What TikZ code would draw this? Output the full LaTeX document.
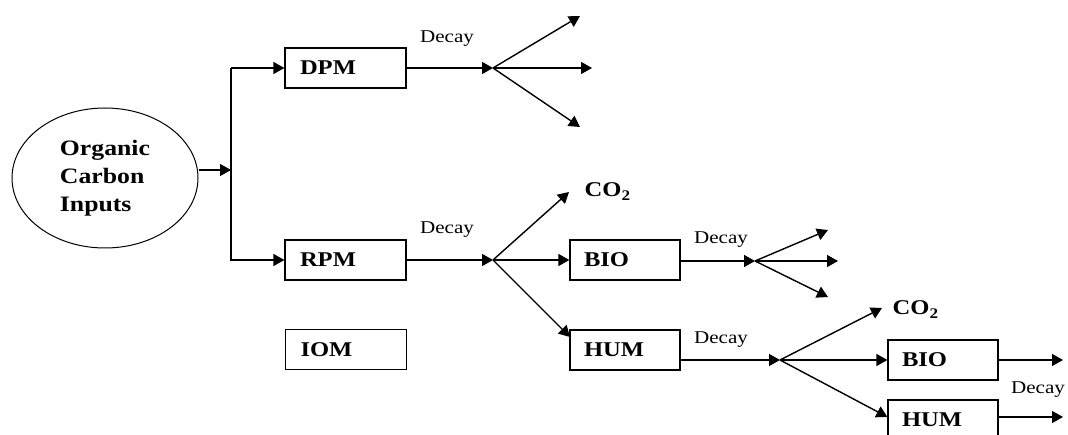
\documentclass[tikz,border=0pt]{standalone}
\usepackage{fontspec}
\setmainfont{Liberation Serif}[FakeStretch=1.17]
\usetikzlibrary{arrows.meta,shapes.geometric}
\begin{document}
\begin{tikzpicture}[x=1pt,y=-1pt,line width=1.4pt,
  every node/.style={inner sep=0pt},
  arr/.style={-{Triangle[length=11pt,width=12pt]}},
  bigbox/.style={draw,line width=1.2pt,minimum height=40pt,inner xsep=15pt,text width=91pt,align=left,
    font=\bfseries\fontsize{21}{24}\selectfont},
  smallbox/.style={draw,line width=1.2pt,minimum height=40pt,inner xsep=14pt,text width=82pt,align=left,
    font=\bfseries\fontsize{21}{24}\selectfont},
  lbl/.style={font=\fontsize{18}{20}\selectfont,anchor=base},
  colbl/.style={font=\bfseries\fontsize{21}{24}\selectfont,anchor=base west}]
\useasboundingbox (0,0) rectangle (1068,435);
% source
\node[draw,line width=1pt,ellipse,minimum width=186pt,minimum height=140pt,align=left,
  font=\bfseries\fontsize{22}{28}\selectfont] (oci) at (105,178) {Organic\\Carbon\\Inputs};
% boxes
\node[bigbox] (dpm) at (345.5,68) {DPM};
\node[bigbox] (rpm) at (345.5,260) {RPM};
\node[bigbox] (iom) at (346,349.5) {IOM};
\node[smallbox] (bio) at (625,260) {BIO};
\node[smallbox] (hum) at (625,350) {HUM};
\node[smallbox] (bio2) at (943,360) {BIO};
\node[smallbox] (hum2) at (943,420) {HUM};
% junctions and free ends
\coordinate (j0) at (231,170);
\coordinate (j1) at (493,68);
\coordinate (j2) at (493,260);
\coordinate (j3) at (755,261);
\coordinate (j4) at (780,360);
\coordinate (f1a) at (580,16);
\coordinate (f1b) at (592,68);
\coordinate (f1c) at (580,127);
\coordinate (co2a) at (569,192);
\coordinate (f3a) at (828,230);
\coordinate (f3b) at (838,261);
\coordinate (f3c) at (828,297);
\coordinate (co2b) at (882,308);
\coordinate (e1) at (1063,360);
\coordinate (e2) at (1063,417);
% connectors
\draw[arr] (oci.east |- j0) -- (j0);
\draw[arr] (j0 |- dpm) -- (dpm.west);
\draw[arr] (j0 |- dpm) -- (j0 |- rpm) -- (rpm.west);
\draw[arr] (dpm.east) -- (j1);
\draw[arr] (j1) -- (f1a);
\draw[arr] (j1) -- (f1b);
\draw[arr] (j1) -- (f1c);
\draw[arr] (rpm.east) -- (j2);
\draw[arr] (j2) -- (co2a);
\draw[arr] (j2) -- (bio.west);
\draw[arr] (j2) -- (570,337);
\draw[arr] (bio.east |- j3) -- (j3);
\draw[arr] (j3) -- (f3a);
\draw[arr] (j3) -- (f3b);
\draw[arr] (j3) -- (f3c);
\draw[arr] (hum.east |- j4) -- (j4);
\draw[arr] (j4) -- (co2b);
\draw[arr] (j4) -- (bio2.west);
\draw[arr] (j4) -- (hum2.west |- e2);
\draw[arr] (bio2.east) -- (e1);
\draw[arr] (hum2.east |- e2) -- (e2);
% labels
\node[lbl] (d1) at (447,43) {Decay};
\node[lbl] (d2) at (447,234) {Decay};
\node[lbl] (d3) at (721,244) {Decay};
\node[lbl] (d4) at (721,344) {Decay};
\node[lbl] (d5) at (1038,393) {Decay};
\node[colbl] (c1) at (584,197) {CO\textsubscript{2}};
\node[colbl] (c2) at (892,315) {CO\textsubscript{2}};
\end{tikzpicture}
\end{document}
